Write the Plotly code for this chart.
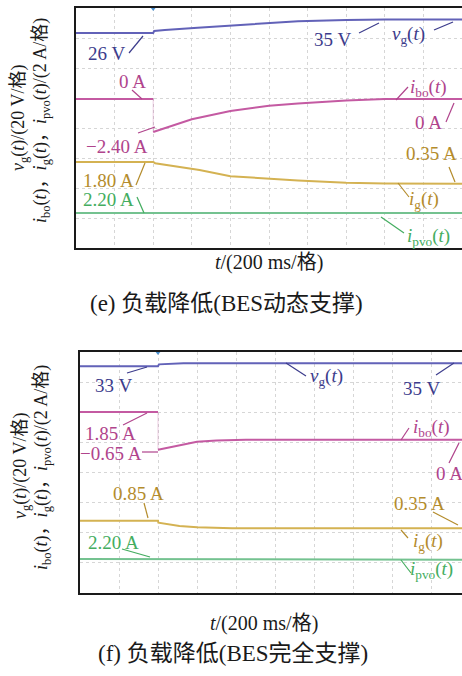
import plotly.graph_objects as go

W, H = 462, 676

# ---------------- data (physical units, time in ms) ----------------
# panel (e) load decrease, BES dynamic support
e_vg_t = [0, 400, 405, 460, 630, 850, 1000, 1150, 1400, 1600, 2000]
e_vg = [26, 26, 27.3, 28, 29.5, 31.5, 32.8, 33.8, 34.6, 35, 35]
e_ibo_t = [0, 400, 400, 500, 600, 800, 1000, 1150, 1400, 1600, 2000]
e_ibo = [0, 0, -2.2, -1.75, -1.35, -0.8, -0.45, -0.3, -0.1, 0, 0]
e_ig_t = [0, 400, 410, 640, 800, 975, 1150, 1400, 1600, 2000]
e_ig = [1.8, 1.8, 1.72, 1.27, 0.85, 0.7, 0.57, 0.42, 0.36, 0.35]
e_ipvo_t = [0, 400, 1000, 1500, 2000]
e_ipvo = [2.2, 2.2, 2.2, 2.2, 2.2]

# panel (f) load decrease, BES full support
f_vg_t = [0, 400, 405, 530, 2000]
f_vg = [33, 33, 34.3, 35, 35]
f_ibo_t = [0, 400, 400, 420, 480, 600, 700, 850, 2000]
f_ibo = [1.85, 1.85, -0.65, -0.6, -0.42, -0.12, -0.04, 0, 0]
f_ig_t = [0, 400, 402, 510, 600, 780, 2000]
f_ig = [0.85, 0.85, 0.72, 0.5, 0.42, 0.35, 0.35]
f_ipvo_t = [0, 460, 520, 2000]
f_ipvo = [2.2, 2.2, 2.15, 2.15]

# scope settings: volts/amps per division
VG_SCALE = 20.0
I_SCALE = 2.0

# ---------------- style ----------------
C_VG, T_VG = '#6262b8', '#3c3c8c'
C_BO, T_BO = '#c45aa2', '#b0448c'
C_G, T_G = '#d4b252', '#b48c2c'
C_PV, T_PV = '#74c290', '#44ad60'
SERIF = "Liberation Serif, Times New Roman, Noto Sans CJK SC, serif"
LBL = 19

# channel ground offsets in divisions (screen position of each channel)
OFF_E = dict(vg=5.867, bo=4.967, g=1.967, pv=0.067)
OFF_F = dict(vg=5.875, bo=5.083, g=1.974, pv=0.03)


def px(x):
    return x / W


def py(y):
    return 1 - y / H


fig = go.Figure()


def draw_channel(t, v, sc, o, c, xa, ya):
    ys = [o + val / sc for val in v]
    seg_x, seg_y = [t[0]], [ys[0]]
    for i in range(1, len(t)):
        if t[i] == t[i - 1]:
            # sharp edge: faint vertical transition
            fig.add_trace(go.Scatter(
                x=seg_x, y=seg_y, mode='lines', line=dict(color=c, width=2),
                xaxis=xa, yaxis=ya, hoverinfo='skip', showlegend=False))
            fig.add_trace(go.Scatter(
                x=[t[i - 1], t[i]], y=[ys[i - 1], ys[i]], mode='lines',
                line=dict(color=c, width=1), opacity=0.3,
                xaxis=xa, yaxis=ya, hoverinfo='skip', showlegend=False))
            seg_x, seg_y = [t[i]], [ys[i]]
        else:
            seg_x.append(t[i])
            seg_y.append(ys[i])
    fig.add_trace(go.Scatter(
        x=seg_x, y=seg_y, mode='lines', line=dict(color=c, width=2),
        xaxis=xa, yaxis=ya, hoverinfo='skip', showlegend=False))


def add_channels(xa, ya, off, vg_t, vg, bo_t, bo, g_t, g, pv_t, pv):
    chans = [
        (pv_t, pv, I_SCALE, off['pv'], C_PV),
        (g_t, g, I_SCALE, off['g'], C_G),
        (bo_t, bo, I_SCALE, off['bo'], C_BO),
        (vg_t, vg, VG_SCALE, off['vg'], C_VG),
    ]
    for t, v, sc, o, c in chans:
        draw_channel(t, v, sc, o, c, xa, ya)
    # channel ground markers on the left edge
    fig.add_trace(go.Scatter(
        x=[-14] * 4, y=[off['vg'], off['bo'], off['g'], off['pv']],
        mode='markers', marker=dict(symbol='triangle-right', size=7,
                                    color=[C_VG, C_BO, C_G, C_PV], opacity=0.8),
        xaxis=xa, yaxis=ya, cliponaxis=False, hoverinfo='skip', showlegend=False))
    # trigger marker
    fig.add_trace(go.Scatter(
        x=[400], y=[8.0], mode='markers',
        marker=dict(symbol='triangle-down', size=6, color='#4a90d0'),
        xaxis=xa, yaxis=ya, cliponaxis=False, hoverinfo='skip', showlegend=False))


add_channels('x', 'y', OFF_E, e_vg_t, e_vg, e_ibo_t, e_ibo, e_ig_t, e_ig, e_ipvo_t, e_ipvo)
add_channels('x2', 'y2', OFF_F, f_vg_t, f_vg, f_ibo_t, f_ibo, f_ig_t, f_ig, f_ipvo_t, f_ipvo)

ax_common = dict(showgrid=True, gridcolor='#d6d6d6', griddash='dot', gridwidth=1,
                 zeroline=False, showticklabels=False, ticks='',
                 showline=True, linecolor='#1a1a1a', linewidth=1.5)

fig.update_layout(
    width=W, height=H, margin=dict(l=0, r=0, t=0, b=0),
    paper_bgcolor='white', plot_bgcolor='white',
    xaxis=dict(domain=[px(76), 1], range=[0, 2000], dtick=200, mirror=True,
               anchor='y', **ax_common),
    yaxis=dict(domain=[py(248), py(8)], range=[0, 8], dtick=1, mirror=False,
               anchor='x', **ax_common),
    xaxis2=dict(domain=[px(80), 1], range=[0, 1959], dtick=200, mirror=True,
                anchor='y2', **ax_common),
    yaxis2=dict(domain=[py(593), py(352)], range=[0, 8], dtick=1, mirror=False,
                anchor='x2', **ax_common),
)

ann = []
shapes = []


def label(x, y, text, color, size=LBL):
    ann.append(dict(x=px(x), y=py(y), xref='paper', yref='paper', text=text,
                    showarrow=False, xanchor='center', yanchor='middle',
                    font=dict(family=SERIF, size=size, color=color)))


def leader(x0, y0, x1, y1, color):
    shapes.append(dict(type='line', xref='paper', yref='paper',
                       x0=px(x0), y0=py(y0), x1=px(x1), y1=py(y1),
                       line=dict(color=color, width=1.2)))


VG = '<i>v</i><sub>g</sub>(<i>t</i>)'
IBO = '<i>i</i><sub>bo</sub>(<i>t</i>)'
IG = '<i>i</i><sub>g</sub>(<i>t</i>)'
IPV = '<i>i</i><sub>pvo</sub>(<i>t</i>)'

# ---- panel (e) labels ----
label(106, 53, '26 V', T_VG); leader(129, 53, 143, 36, T_VG)
label(132, 81, '0 A', T_BO); leader(132, 90, 142, 99, T_BO)
label(117, 147, '−2.40 A', T_BO); leader(138, 133, 155, 127, T_BO)
label(108, 180, '1.80 A', T_G); leader(136, 185, 145, 163, T_G)
label(108, 200, '2.20 A', T_PV); leader(137, 197, 144, 213, T_PV)
label(332, 39, '35 V', T_VG); leader(359, 33, 379, 23, T_VG)
label(408, 35, VG, T_VG); leader(434, 30, 453, 22, T_VG)
label(428, 88, IBO, T_BO); leader(396, 100, 408, 87, T_BO)
label(428, 123, '0 A', T_BO); leader(446, 122, 454, 103, T_BO)
label(431, 153, '0.35 A', T_G); leader(449, 167, 455, 182, T_G)
label(424, 200, IG, T_G); leader(398, 183, 409, 197, T_G)
label(428, 237, IPV, T_PV); leader(381, 217, 404, 233, T_PV)

# ---- panel (f) labels ----
label(113, 385, '33 V', T_VG); leader(127, 373, 147, 367, T_VG)
label(110, 433, '1.85 A', T_BO); leader(123, 425, 147, 413, T_BO)
label(111, 453, '−0.65 A', T_BO); leader(142, 452, 158, 452, T_BO)
label(138, 493, '0.85 A', T_G); leader(144, 503, 148, 518, T_G)
label(113, 542, '2.20 A', T_PV); leader(122, 549, 150, 557, T_PV)
label(326, 377, VG, T_VG); leader(286, 363, 306, 376, T_VG)
label(421, 388, '35 V', T_VG); leader(436, 375, 454, 363, T_VG)
label(431, 428, IBO, T_BO); leader(401, 440, 409, 428, T_BO)
label(449, 473, '0 A', T_BO); leader(449, 463, 459, 443, T_BO)
label(419, 503, '0.35 A', T_G); leader(433, 512, 458, 525, T_G)
label(428, 542, IG, T_G); leader(401, 530, 408, 538, T_G)
label(431, 570, IPV, T_PV); leader(401, 560, 411, 573, T_PV)

# ---- axis titles ----
Y1 = VG + '/(20 V/格)'
Y2 = IBO + '，' + IG + '，' + IPV + '/(2 A/格)'
for (xc1, yc1, xc2, yc2) in [(19, 118, 42, 121), (21, 466, 42, 468)]:
    ann.append(dict(x=px(xc1), y=py(yc1), xref='paper', yref='paper', text=Y1,
                    textangle=-90, showarrow=False, xanchor='center', yanchor='middle',
                    font=dict(family=SERIF, size=18, color='#1a1a1a')))
    ann.append(dict(x=px(xc2), y=py(yc2), xref='paper', yref='paper', text=Y2,
                    textangle=-90, showarrow=False, xanchor='center', yanchor='middle',
                    font=dict(family=SERIF, size=18, color='#1a1a1a')))

XT = '<i>t</i>/(200 ms/格)'
for (xc, yc) in [(269, 263), (264, 623)]:
    ann.append(dict(x=px(xc), y=py(yc), xref='paper', yref='paper', text=XT,
                    showarrow=False, xanchor='center', yanchor='middle',
                    font=dict(family=SERIF, size=20, color='#1a1a1a')))

ann.append(dict(x=px(226), y=py(303), xref='paper', yref='paper',
                text='(e) 负载降低(BES动态支撑)', showarrow=False,
                xanchor='center', yanchor='middle',
                font=dict(family=SERIF, size=23, color='#1a1a1a')))
ann.append(dict(x=px(233), y=py(653), xref='paper', yref='paper',
                text='(f) 负载降低(BES完全支撑)', showarrow=False,
                xanchor='center', yanchor='middle',
                font=dict(family=SERIF, size=23, color='#1a1a1a')))

fig.update_layout(annotations=ann, shapes=shapes)
fig.write_html("out.html")
